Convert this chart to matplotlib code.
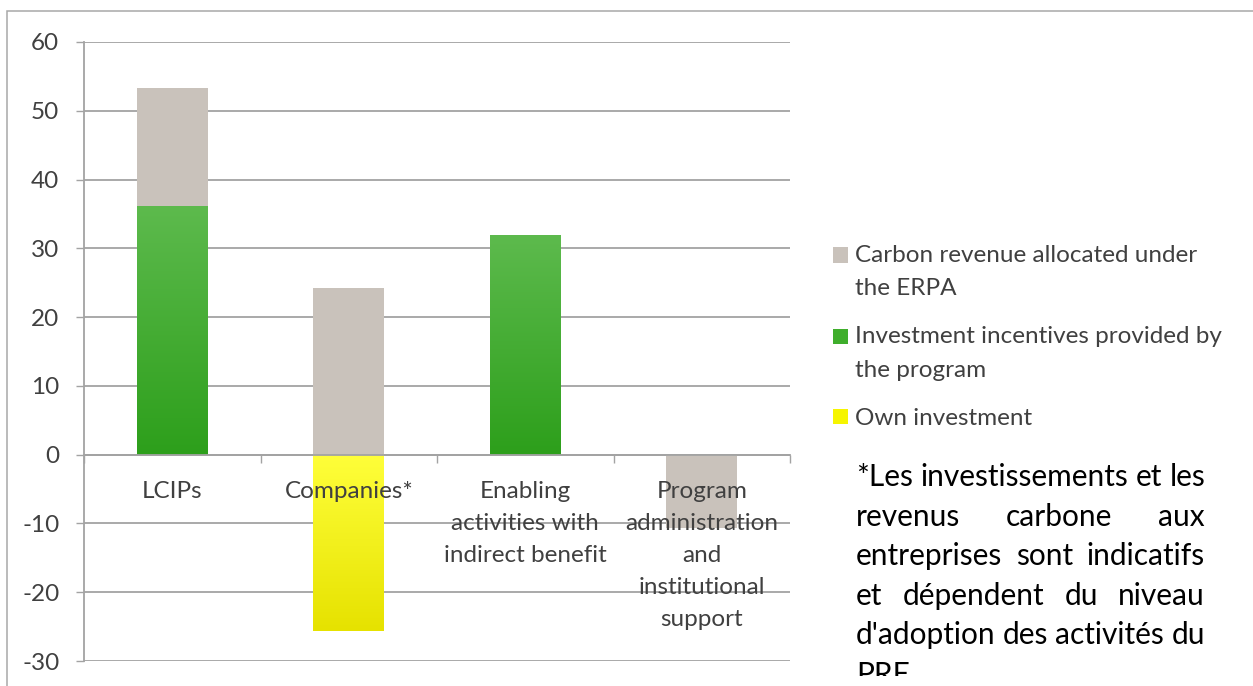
import matplotlib
matplotlib.use("Agg")
import matplotlib.pyplot as plt
import numpy as np
from matplotlib.patches import Rectangle
from matplotlib.colors import LinearSegmentedColormap
from matplotlib.legend_handler import HandlerPatch
from matplotlib.transforms import Bbox, TransformedBbox

# ---------------- data ----------------
categories = ["LCIPs", "Companies*", "Enabling\nactivities with\nindirect benefit",
              "Program\nadministration\nand\ninstitutional\nsupport"]
incentives = [36.1, 0.0, 31.9, 0.0]          # Investment incentives provided by the program
carbon_revenue = [17.2, 24.3, 0.0, -10.7]    # Carbon revenue allocated under the ERPA
own_investment = [0.0, -25.6, 0.0, 0.0]      # Own investment
y_ticks = [-30, -20, -10, 0, 10, 20, 30, 40, 50, 60]
series_labels = ["Carbon revenue allocated under\nthe ERPA",
                 "Investment incentives provided by\nthe program",
                 "Own investment"]
footnote_lines = ["*Les investissements et les",
                  "revenus carbone aux",
                  "entreprises sont indicatifs",
                  "et dépendent du niveau",
                  "d'adoption des activités du",
                  "PRE"]

# ---------------- style ----------------
FONT = ["Lato", "DejaVu Sans"]
plt.rcParams['font.family'] = FONT
plt.rcParams['axes.unicode_minus'] = False
TXT = "#404040"
GRID = "#a3a3a3"
GRAY = "#c9c2bb"
GREEN_TOP, GREEN_BOT = "#5dba4d", "#2d9f1b"
YEL_TOP, YEL_BOT = "#ffff3a", "#e6e200"
FS = 17.5

W, H = 1253, 686
fig = plt.figure(figsize=(W / 100, H / 100), dpi=100)
ax = fig.add_axes([84 / W, 1 - 661 / H, (790 - 84) / W, (661 - 42) / H])

x = np.arange(len(categories))
bw = 0.4

inc = np.array(incentives)
car = np.array(carbon_revenue)
own = np.array(own_investment)
pos_base = np.zeros(len(x))
neg_base = np.zeros(len(x))

def stack(vals):
    return np.where(vals >= 0, pos_base, neg_base)

b_inc = stack(inc)
bars_inc = ax.bar(x, inc, bw, bottom=b_inc, facecolor="none", edgecolor="none", zorder=2)
pos_base += np.where(inc > 0, inc, 0); neg_base += np.where(inc < 0, inc, 0)
b_car = stack(car)
bars_car = ax.bar(x, car, bw, bottom=b_car, color=GRAY, edgecolor="none", zorder=2)
pos_base += np.where(car > 0, car, 0); neg_base += np.where(car < 0, car, 0)
b_own = stack(own)
bars_own = ax.bar(x, own, bw, bottom=b_own, facecolor="none", edgecolor="none", zorder=2)

grad = np.linspace(0, 1, 256).reshape(-1, 1)
def gradient_fill(bars, bot, top):
    cmap = LinearSegmentedColormap.from_list("g", [bot, top])
    for p in bars.patches:
        if p.get_height() == 0:
            continue
        x0, y0 = p.get_x(), p.get_y()
        x1, y1 = x0 + p.get_width(), y0 + p.get_height()
        lo, hi = min(y0, y1), max(y0, y1)
        im = ax.imshow(grad, cmap=cmap, origin="lower", aspect="auto",
                       extent=[x0, x1, lo, hi], zorder=2, interpolation="bilinear")
        im.set_clip_path(p)

gradient_fill(bars_inc, GREEN_BOT, GREEN_TOP)
gradient_fill(bars_own, YEL_BOT, YEL_TOP)

ax.set_xlim(-0.5, len(x) - 0.5)
ax.set_ylim(-30, 60)

# axes styling
ax.set_axisbelow(True)
ax.yaxis.grid(True, color=GRID, linewidth=1.3)
for s in ["top", "right"]:
    ax.spines[s].set_visible(False)
ax.spines["left"].set_color(GRID)
ax.spines["left"].set_linewidth(1.3)
ax.spines["bottom"].set_position(("data", 0))
ax.spines["bottom"].set_color(GRID)
ax.spines["bottom"].set_linewidth(1.3)
ax.spines["bottom"].set_zorder(3)

ax.set_yticks(y_ticks)
ax.tick_params(axis="y", length=5.8, width=1.0, color=GRID, pad=12, labelsize=FS, labelcolor=TXT)
ax.set_xticks(x)
ax.set_xticklabels(categories, fontsize=FS, color=TXT, linespacing=1.64, va="top")
ax.set_xticks(np.arange(len(x) + 1) - 0.5, minor=True)
ax.tick_params(axis="x", which="major", length=0, pad=19)
ax.tick_params(axis="x", which="minor", length=5.8, width=1.0, color=GRID)
ax.xaxis.set_zorder(5)

# legend
proxies = [Rectangle((0, 0), 1, 1, fc=GRAY, ec="none"),
           Rectangle((0, 0), 1, 1, fc="#3fae2c", ec="none"),
           Rectangle((0, 0), 1, 1, fc="#f6f500", ec="none")]

def make_handler(offset):
    def f(legend, orig_handle, xdescent, ydescent, width, height, fontsize):
        return Rectangle((-xdescent, -ydescent + offset), width, height)
    return HandlerPatch(patch_func=f)

hmap = {proxies[0]: make_handler(12.3), proxies[1]: make_handler(12.3), proxies[2]: make_handler(0)}
leg = ax.legend(proxies, series_labels, loc="upper left",
                bbox_to_anchor=(833 / W, 1 - 245 / H), bbox_transform=fig.transFigure,
                frameon=False, fontsize=FS, handlelength=0.6, handleheight=0.6,
                handletextpad=0.3, labelspacing=1.12, borderpad=0, borderaxespad=0,
                handler_map=hmap)
for t in leg.get_texts():
    t.set_color(TXT)
    t.set_linespacing(1.72)

# outer frame
fig.add_artist(Rectangle((7 / W, -0.05), 1.0, 1 - 11 / H + 0.05, transform=fig.transFigure,
                         fill=False, edgecolor="#a8a8a8", linewidth=1.1, clip_on=False))

# justified footnote (last line cut off by the frame, as in the reference)
renderer = fig.canvas.get_renderer()
left_px, right_px = 856, 1205
baselines = [486, 526, 565, 605, 644, 684]
clipbox = TransformedBbox(Bbox([[0, 10 / H], [1, 1]]), fig.transFigure)
FN = 21.5
for i, line in enumerate(footnote_lines):
    words = line.split(" ")
    yb = 1 - baselines[i] / H
    texts = [fig.text(0, yb, w, fontsize=FN, color="black", va="baseline", ha="left") for w in words]
    widths = [t.get_window_extent(renderer).width for t in texts]
    last = (i == len(footnote_lines) - 1)
    if len(words) > 1 and not last:
        gap = (right_px - left_px - sum(widths)) / (len(words) - 1)
    else:
        gap = 6
    xp = left_px
    for t, wdt in zip(texts, widths):
        t.set_x(xp / W)
        t.set_clip_box(clipbox)
        t.set_clip_on(True)
        xp += wdt + gap

fig.savefig("out.png", dpi=100)
